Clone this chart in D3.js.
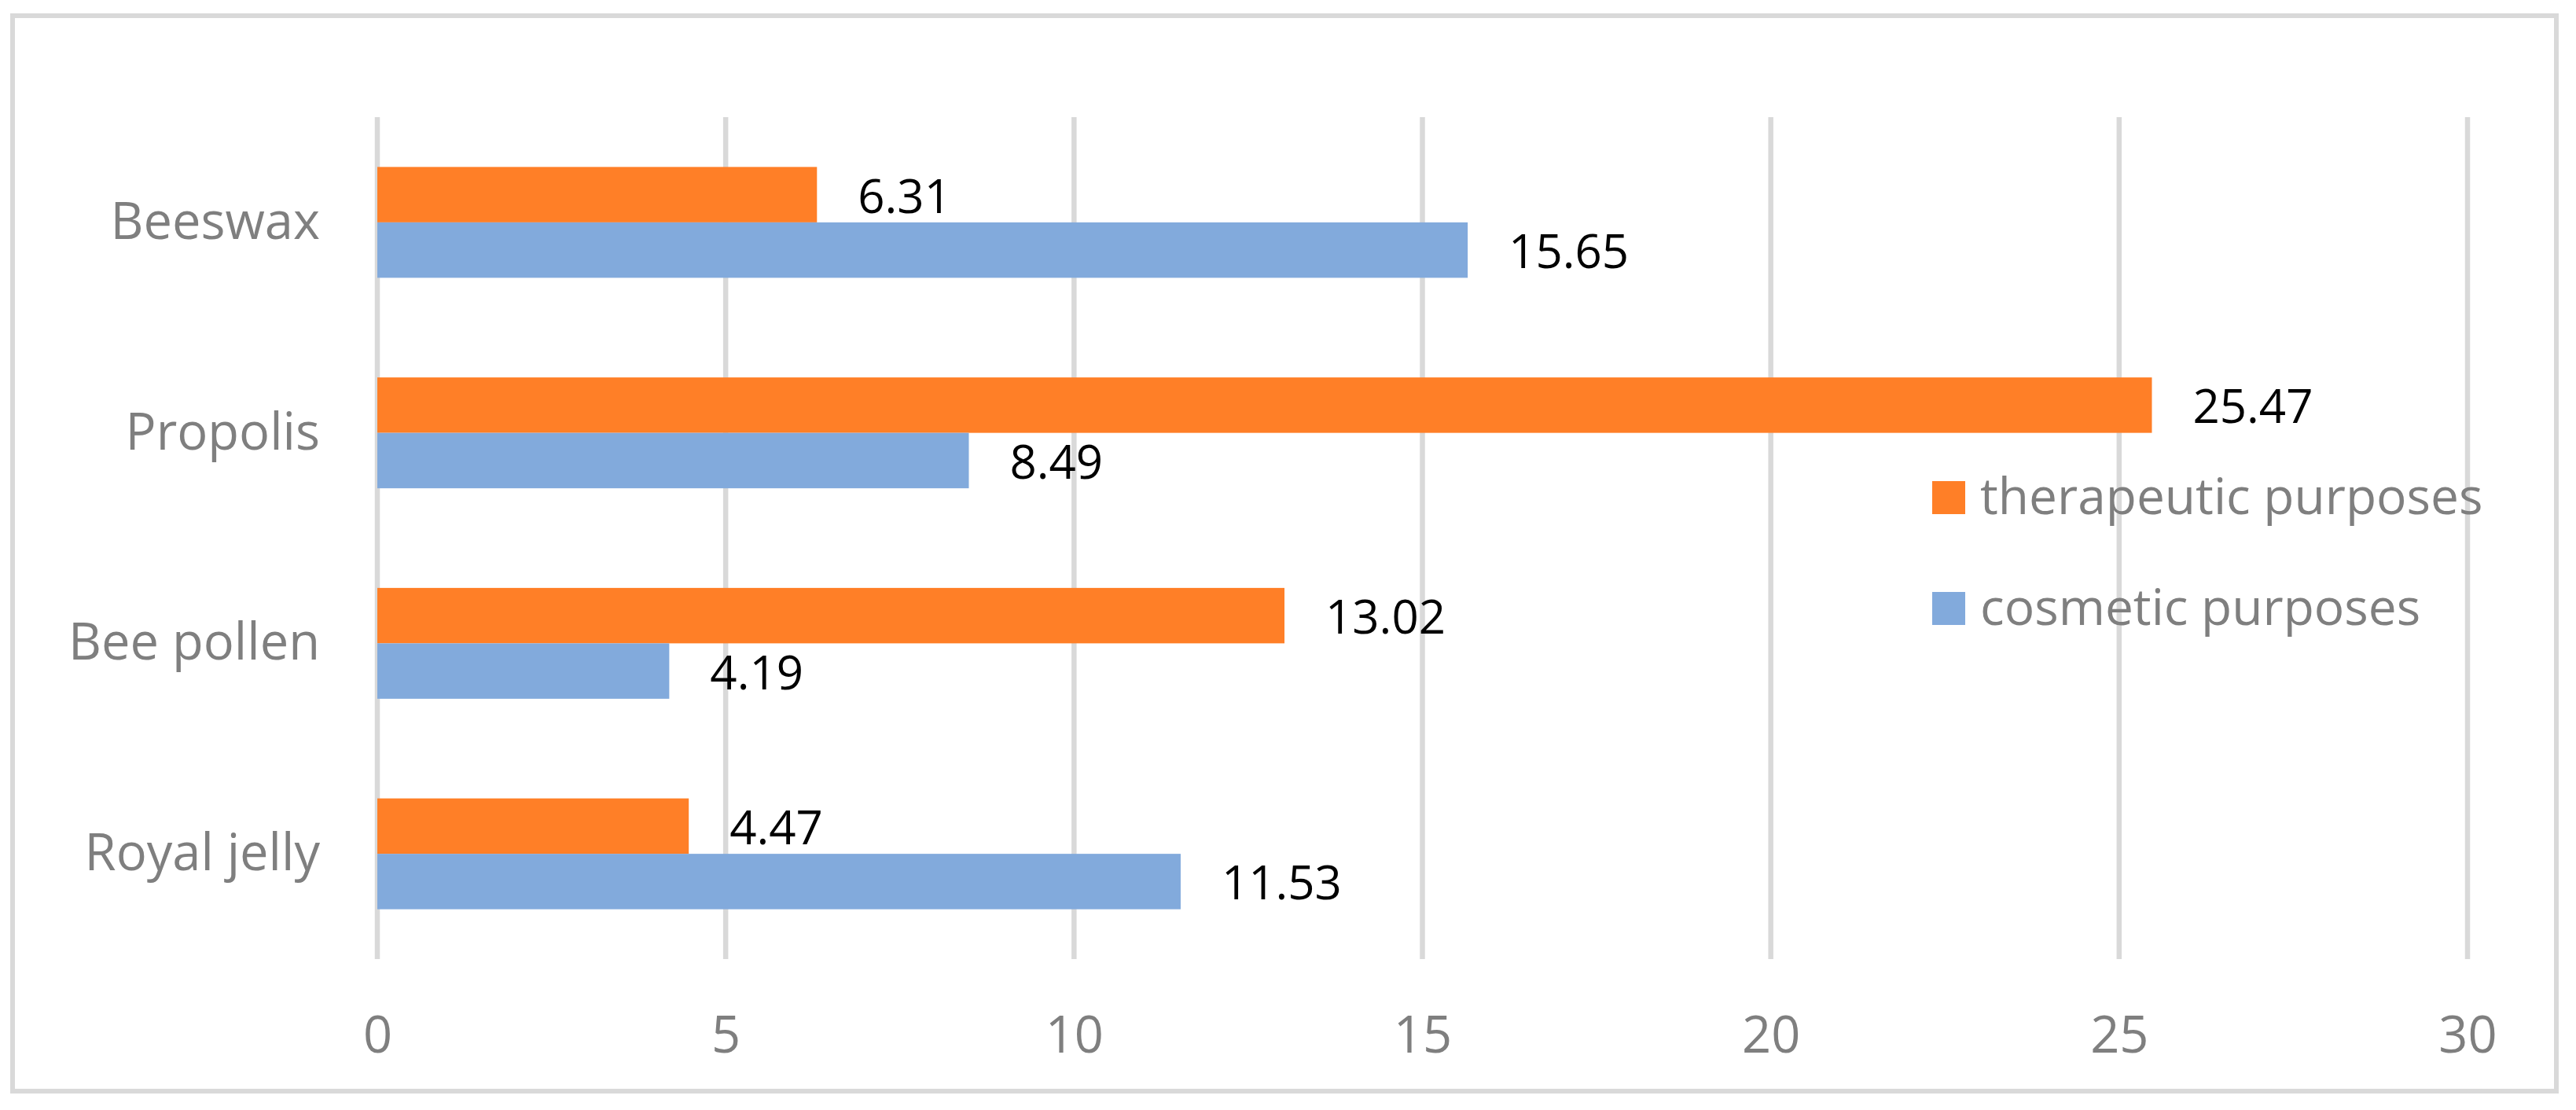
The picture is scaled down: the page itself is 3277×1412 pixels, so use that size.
<!DOCTYPE html>
<html>
<head>
<meta charset="utf-8">
<script src="https://cdn.jsdelivr.net/npm/d3@7"></script>
<style>
  html, body { margin: 0; padding: 0; background: #fff; }
  svg { display: block; }
</style>
</head>
<body>
<svg id="chart" width="3277" height="1412"></svg>
<script>
// Data (Excel order: first category drawn at bottom)
const categories = ["Royal jelly", "Bee pollen", "Propolis", "Beeswax"];
const seriesNames = ["therapeutic purposes", "cosmetic purposes"];
const therapeutic = [4.47, 13.02, 25.47, 6.31];
const cosmetic = [11.53, 4.19, 8.49, 15.65];
const xTicks = [0, 5, 10, 15, 20, 25, 30];
const colors = ["#FF7F27", "#82AADC"];

const svg = d3.select("#chart");
const W = 3277, H = 1412;

// outer border
svg.append("rect")
  .attr("x", 16).attr("y", 20)
  .attr("width", 3252 - 16).attr("height", 1388 - 20)
  .attr("fill", "#fff").attr("stroke", "#d9d9d9").attr("stroke-width", 6);

const plot = { left: 480, right: 3139, top: 149, bottom: 1220 };

const x = d3.scaleLinear().domain([0, 30]).range([plot.left, plot.right]);

const y = d3.scaleBand()
  .domain(categories.slice().reverse())
  .range([plot.top, plot.bottom])
  .paddingInner(0.4734)
  .paddingOuter(0.4734 / 2);

const ySub = d3.scaleBand()
  .domain(seriesNames)
  .range([0, y.bandwidth()])
  .padding(0);

// gridlines
svg.append("g").selectAll("line")
  .data(xTicks)
  .join("line")
  .attr("x1", d => x(d)).attr("x2", d => x(d))
  .attr("y1", plot.top).attr("y2", plot.bottom)
  .attr("stroke", "#d9d9d9").attr("stroke-width", 6.5);

// bars
const seriesData = [therapeutic, cosmetic];
seriesData.forEach((vals, si) => {
  const g = svg.append("g");
  g.selectAll("rect")
    .data(categories.map((c, i) => ({ c, v: vals[i] })))
    .join("rect")
    .attr("x", x(0))
    .attr("y", d => y(d.c) + ySub(seriesNames[si]))
    .attr("width", d => x(d.v) - x(0))
    .attr("height", ySub.bandwidth())
    .attr("fill", colors[si]);
  g.selectAll("text")
    .data(categories.map((c, i) => ({ c, v: vals[i] })))
    .join("text")
    .attr("x", d => x(d.v) + 52)
    .attr("y", d => y(d.c) + ySub(seriesNames[si]) + ySub.bandwidth() / 2 + 23)
    .attr("font-family", "'Open Sans', sans-serif")
    .attr("font-size", 60)
    .attr("fill", "#000")
    .text(d => d.v.toFixed(2));
});

// x axis labels
const xAxis = d3.axisBottom(x).tickValues(xTicks).tickSize(0).tickPadding(0);
const xg = svg.append("g").attr("transform", `translate(0,${plot.bottom})`).call(xAxis);
xg.select(".domain").remove();
xg.selectAll("text")
  .attr("dy", null)
  .attr("y", 119)
  .attr("font-family", "'Open Sans', sans-serif")
  .attr("font-size", 65)
  .attr("fill", "#7f7f7f");

// y axis labels
const yAxis = d3.axisLeft(y).tickSize(0).tickPadding(0);
const yg = svg.append("g").attr("transform", `translate(407,0)`).call(yAxis);
yg.select(".domain").remove();
yg.selectAll("text")
  .attr("dy", null)
  .attr("y", 21)
  .attr("x", 0)
  .attr("text-anchor", "end")
  .attr("font-family", "'Open Sans', sans-serif")
  .attr("font-size", 65)
  .attr("fill", "#7f7f7f");

// legend
const legend = svg.append("g");
const legendY = [654, 795];
seriesNames.forEach((name, i) => {
  legend.append("rect")
    .attr("x", 2458).attr("y", legendY[i] - 42)
    .attr("width", 42).attr("height", 42)
    .attr("fill", colors[i]);
  legend.append("text")
    .attr("x", 2519).attr("y", legendY[i])
    .attr("font-family", "'Open Sans', sans-serif")
    .attr("font-size", 64)
    .attr("fill", "#7f7f7f")
    .text(name);
});
</script>
</body>
</html>
